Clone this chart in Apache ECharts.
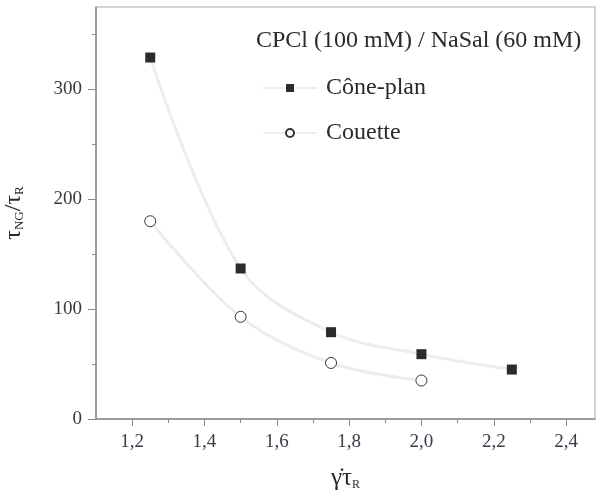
<!DOCTYPE html>
<html>
<head>
<meta charset="utf-8">
<script src="https://cdn.jsdelivr.net/npm/echarts@6/dist/echarts.min.js"></script>
<style>
    html, body { margin: 0; padding: 0; background: #fff; }
    #chart { width: 598px; height: 493px; }
</style>
</head>
<body>
<div id="chart"></div>
<script>
var xCone = [1.25, 1.5, 1.75, 2.0, 2.25];
var conePlan = [329, 137, 79, 59, 45];
var xCouette = [1.25, 1.5, 1.75, 2.0];
var couette = [180, 93, 51, 35];

var xTicks = [1.2, 1.4, 1.6, 1.8, 2.0, 2.2, 2.4];
var xMinorTicks = [1.3, 1.5, 1.7, 1.9, 2.1, 2.3];
var yTicks = [0, 100, 200, 300];
var yMinorTicks = [50, 150, 250, 350];

var serif = '"Liberation Serif", "DejaVu Serif", serif';

function pairs(xs, ys) {
    var res = [];
    for (var i = 0; i < xs.length; i++) {
        res.push([xs[i], ys[i]]);
    }
    return res;
}

var chart = echarts.init(document.getElementById('chart'));

var axisColor = '#8a8a8a';

option = {
    backgroundColor: '#fff',
    animation: false,
    title: {
        text: 'CPCl (100 mM) / NaSal (60 mM)',
        left: 256,
        top: 29,
        padding: 0,
        textStyle: {
            fontFamily: serif,
            fontSize: 24,
            fontWeight: 'normal',
            color: '#2a2a2a'
        }
    },
    legend: {
        orient: 'vertical',
        left: 262,
        top: 76,
        padding: 0,
        itemWidth: 54,
        itemHeight: 10,
        itemGap: 21,
        textStyle: {
            fontFamily: serif,
            fontSize: 24,
            color: '#2a2a2a',
            padding: [0, 0, 0, 4]
        },
        data: ['Cône-plan', 'Couette']
    },
    grid: {
        left: 96,
        top: 7,
        right: 3,
        bottom: 74,
        outerBoundsMode: 'none',
        show: true,
        borderColor: '#a8a8a8',
        borderWidth: 1
    },
    xAxis: [{
        type: 'value',
        min: 1.1,
        max: 2.48,
        position: 'bottom',
        name: '{g|γ̇}{t|τ}{s|R}',
        nameLocation: 'middle',
        nameGap: 44,
        nameTextStyle: {
            rich: {
                g: { fontFamily: serif, fontSize: 25, color: '#2a2a2a', lineHeight: 28, verticalAlign: 'bottom' },
                t: { fontFamily: serif, fontSize: 25, color: '#2a2a2a', lineHeight: 28, verticalAlign: 'bottom' },
                s: { fontFamily: serif, fontSize: 12, color: '#2a2a2a', lineHeight: 20, verticalAlign: 'bottom' }
            }
        },
        splitLine: { show: false },
        axisLine: { lineStyle: { color: axisColor, width: 1.5 } },
        axisTick: {
            customValues: xTicks,
            length: 7,
            lineStyle: { color: axisColor }
        },
        axisLabel: {
            customValues: xTicks,
            margin: 14,
            fontFamily: serif,
            fontSize: 19,
            color: '#3a3a4a',
            formatter: function (v) {
                return v.toFixed(1).replace('.', ',');
            }
        }
    }, {
        type: 'value',
        min: 1.1,
        max: 2.48,
        position: 'bottom',
        splitLine: { show: false },
        axisLine: { show: false },
        axisLabel: { show: false },
        axisTick: {
            customValues: xMinorTicks,
            length: 4,
            lineStyle: { color: axisColor }
        }
    }],
    yAxis: [{
        type: 'value',
        min: 0,
        max: 375,
        position: 'left',
        name: '{t|τ}{s|NG}{t|/τ}{s|R}',
        nameLocation: 'middle',
        nameRotate: 90,
        nameGap: 70,
        nameTextStyle: {
            rich: {
                t: { fontFamily: serif, fontSize: 24, color: '#2a2a2a', lineHeight: 28, verticalAlign: 'bottom' },
                s: { fontFamily: serif, fontSize: 13, color: '#2a2a2a', lineHeight: 20, verticalAlign: 'bottom' }
            }
        },
        splitLine: { show: false },
        axisLine: { lineStyle: { color: axisColor, width: 1.5 } },
        axisTick: {
            customValues: yTicks,
            length: 8,
            lineStyle: { color: axisColor }
        },
        axisLabel: {
            customValues: yTicks,
            margin: 14,
            fontFamily: serif,
            fontSize: 19,
            color: '#3a3a3a'
        }
    }, {
        type: 'value',
        min: 0,
        max: 375,
        position: 'left',
        splitLine: { show: false },
        axisLine: { show: false },
        axisLabel: { show: false },
        axisTick: {
            customValues: yMinorTicks,
            length: 4,
            lineStyle: { color: axisColor }
        }
    }],
    series: [{
        name: 'Cône-plan',
        type: 'line',
        smooth: 0.35,
        data: pairs(xCone, conePlan),
        symbol: 'rect',
        symbolSize: 10,
        itemStyle: { color: '#2b2b2b' },
        lineStyle: { color: '#ededed', width: 3 }
    }, {
        name: 'Couette',
        type: 'line',
        smooth: 0.35,
        data: pairs(xCouette, couette),
        symbol: 'circle',
        symbolSize: 11,
        itemStyle: { color: '#fff', borderColor: '#333', borderWidth: 1 },
        lineStyle: { color: '#ededed', width: 3 }
    }]
};

chart.setOption(option);
</script>
</body>
</html>
